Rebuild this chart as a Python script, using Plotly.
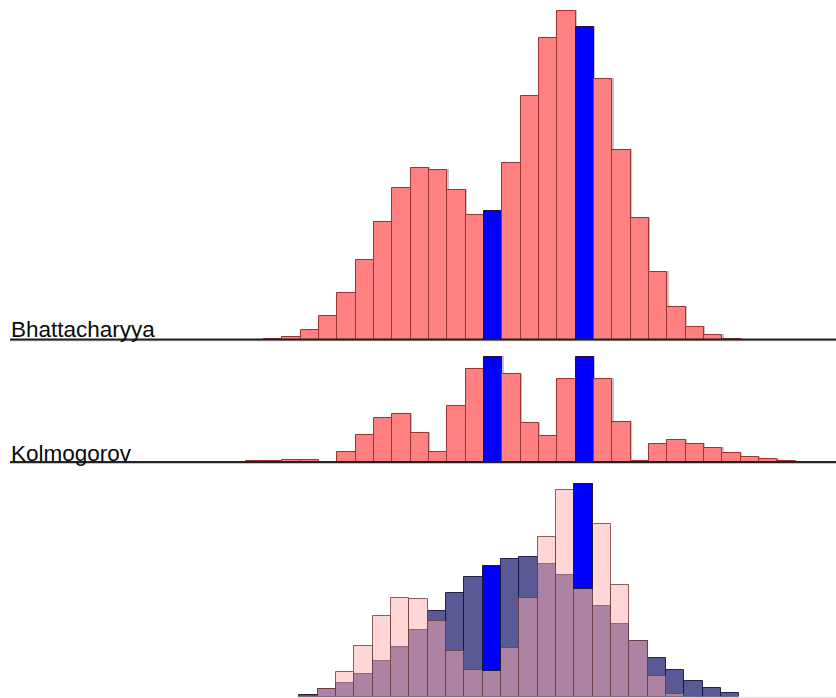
import plotly.graph_objects as go

W, H = 836, 698

# bin index (left edge index), one bin per bar
bins = list(range(-1, 29))
highlight = [12, 17]

bhattacharyya = [0, 1, 3, 10, 24, 47, 80, 118, 152, 172, 170, 150, 125, 129, 177,
                 244, 302, 329, 313, 261, 190, 122, 68, 33, 13, 5, 1, 0, 0, 0]
kolmogorov = [1, 1, 2.5, 2, 0, 10, 27, 44, 48, 29, 10, 56, 93, 105, 88,
              39, 26, 83, 105, 83, 40, 1, 18, 22, 18, 14, 9, 5, 3, 1.5]
combined_pink = [0, 0, 0, 1, 8, 25, 51, 81, 99, 98, 76, 46, 27, 26, 49,
                 99, 160, 207, 108, 173, 112, 56, 21, 3, 0, 0, 0, 0, 0, 0]
combined_navy = [0, 0, 0, 2, 8, 14, 23, 36, 50, 67, 86, 104, 120, 131, 138,
                 140, 133, 122, 213, 91, 73, 56, 39, 27, 16, 9, 4, 0, 0, 0]

labels = ["Bhattacharyya", "Kolmogorov"]

centers = [b + 0.5 for b in bins]
is_hl = [b in highlight for b in bins]

RED = "#ff8080"
RED_LINE = "#9c3434"
BLUE = "#0000ff"
BLUE_LINE = "#2a0a3a"

bw = 18.33
x0 = 264.0
xr = [-x0 / bw, (W - x0) / bw]
xr3 = [-(x0 - 1.3) / bw, (W - x0 + 1.3) / bw]


def nz(vals):
    return [v if v > 0 else None for v in vals]


fig = go.Figure()

# soft drop shadows for the upper two panels
for vals, xa, ya, ypx in ((bhattacharyya, "x", "y", 339.5 / 339.5), (kolmogorov, "x2", "y2", 110 / 110)):
    fig.add_trace(go.Bar(
        x=[c + 1.3 / bw for c in centers], y=[v + 1.0 if v > 2 else None for v in vals],
        width=1, xaxis=xa, yaxis=ya,
        marker=dict(color="#c4c4c4", line=dict(width=0)),
        showlegend=False, hoverinfo="skip"))

# top panel
fig.add_trace(go.Bar(
    x=centers, y=bhattacharyya, width=1, xaxis="x", yaxis="y",
    marker=dict(color=[BLUE if h else RED for h in is_hl],
                line=dict(color=[BLUE_LINE if h else RED_LINE for h in is_hl], width=1)),
    showlegend=False, hoverinfo="skip"))

# middle panel
fig.add_trace(go.Bar(
    x=centers, y=kolmogorov, width=1, xaxis="x2", yaxis="y2",
    marker=dict(color=[BLUE if h else RED for h in is_hl],
                line=dict(color=[BLUE_LINE if h else RED_LINE for h in is_hl], width=1)),
    showlegend=False, hoverinfo="skip"))

# bottom panel: navy, then pink overlay, then blue highlight above pink
fig.add_trace(go.Bar(
    x=centers, y=nz(combined_navy), width=1, xaxis="x3", yaxis="y3",
    marker=dict(color="rgba(0,0,93,0.65)", line=dict(color="rgba(20,20,60,0.9)", width=1)),
    showlegend=False, hoverinfo="skip"))
fig.add_trace(go.Bar(
    x=centers, y=nz(combined_pink), width=1, xaxis="x3", yaxis="y3",
    marker=dict(color="rgba(255,174,174,0.5)", line=dict(color="rgba(110,60,60,0.8)", width=1)),
    showlegend=False, hoverinfo="skip"))
hl_x = [c for c, h in zip(centers, is_hl) if h]
hl_base = [p for p, h in zip(combined_pink, is_hl) if h]
hl_h = [n - p for n, p, h in zip(combined_navy, combined_pink, is_hl) if h]
fig.add_trace(go.Bar(
    x=hl_x, y=hl_h, base=hl_base, width=1, xaxis="x3", yaxis="y3",
    marker=dict(color=BLUE, line=dict(color="#1a1a40", width=1)),
    showlegend=False, hoverinfo="skip"))


def py(px):
    return 1 - px / H


ax_common = dict(visible=False, showgrid=False, zeroline=False, fixedrange=True)
fig.update_layout(
    width=W, height=H, margin=dict(l=0, r=0, t=0, b=0),
    paper_bgcolor="white", plot_bgcolor="rgba(0,0,0,0)",
    barmode="overlay", bargap=0,
    xaxis=dict(range=xr, domain=[0, 1], anchor="y", **ax_common),
    xaxis2=dict(range=xr, domain=[0, 1], anchor="y2", **ax_common),
    xaxis3=dict(range=xr3, domain=[0, 1], anchor="y3", **ax_common),
    yaxis=dict(range=[0, 339.5], domain=[py(339.5), 1], anchor="x", **ax_common),
    yaxis2=dict(range=[0, 110], domain=[py(462), py(352)], anchor="x2", **ax_common),
    yaxis3=dict(range=[0, 226.7], domain=[py(696.7), py(470)], anchor="x3", **ax_common),
    showlegend=False,
)

shapes = []
for yb in (339.5, 462):
    shapes.append(dict(type="line", xref="paper", yref="paper", x0=10 / W, x1=1,
                       y0=py(yb + 1.2), y1=py(yb + 1.2), line=dict(color="#b0b0b0", width=1)))
    shapes.append(dict(type="line", xref="paper", yref="paper", x0=10 / W, x1=1,
                       y0=py(yb), y1=py(yb), line=dict(color="#222222", width=2)))
shapes.append(dict(type="line", xref="paper", yref="paper", x0=296 / W, x1=1,
                   y0=py(697.3), y1=py(697.3), line=dict(color="#dcdcdc", width=1)))
fig.update_layout(shapes=shapes)

for txt, ymid in ((labels[0], 330.0), (labels[1], 453.3)):
    fig.add_annotation(text=txt, xref="paper", yref="paper", x=9 / W, y=py(ymid),
                       xanchor="left", yanchor="middle", showarrow=False,
                       font=dict(family="Liberation Sans, Arial, sans-serif", size=22.5, color="#0a0a0a"))

fig.write_html("out.html", config={"displayModeBar": False})
